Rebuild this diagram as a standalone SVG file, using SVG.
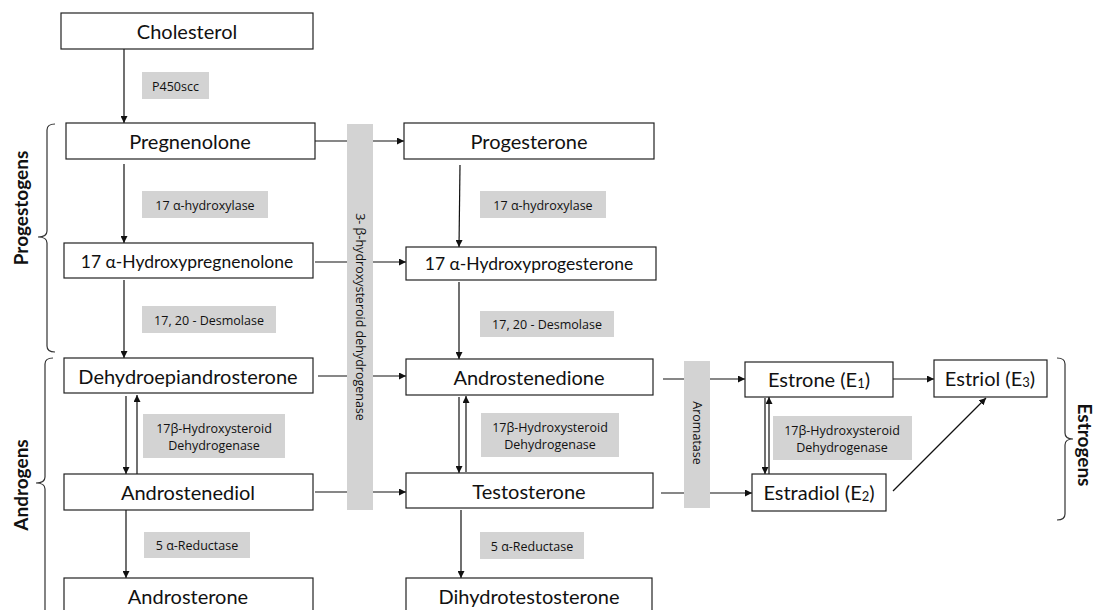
<svg xmlns="http://www.w3.org/2000/svg" width="1095" height="610" viewBox="0 0 1095 610">
<defs>
<marker id="ah" viewBox="0 0 10 10" refX="10" refY="5" markerWidth="7" markerHeight="7" markerUnits="userSpaceOnUse" orient="auto"><path d="M0,0 L10,5 L0,10 z" fill="#111"/></marker>
<style>
.box{fill:#fff;stroke:#222;stroke-width:1.2}
.bt{font-family:Lato,"Open Sans",sans-serif;font-size:20px;fill:#111;text-anchor:middle;dominant-baseline:central}
.bt.sm{font-size:17.5px}
.lb{fill:#d3d3d3}
.lt{font-family:"Open Sans","Noto Sans",sans-serif;font-size:12.5px;fill:#111;text-anchor:middle;dominant-baseline:central}
.cn{stroke:#111;stroke-width:1.2;fill:none}
.ar{marker-end:url(#ah)}
.br{stroke:#333;stroke-width:1.2;fill:none}
.gt{font-family:Lato,"Open Sans",sans-serif;font-size:19px;font-weight:bold;fill:#111;text-anchor:middle;dominant-baseline:central}
.sub{font-size:13px}
</style>
</defs>
<rect width="1095" height="610" fill="#fff"/>

<g id="connectors">
<line class="cn ar" x1="124" y1="49" x2="124" y2="123"/>
<line class="cn ar" x1="124" y1="164" x2="124" y2="243"/>
<line class="cn ar" x1="124" y1="280" x2="124" y2="358"/>
<line class="cn ar" x1="126" y1="396" x2="126" y2="474"/>
<line class="cn ar" x1="137" y1="474" x2="137" y2="395"/>
<line class="cn ar" x1="126" y1="510" x2="126" y2="578"/>
<line class="cn ar" x1="315" y1="141" x2="404" y2="141"/>
<line class="cn ar" x1="315" y1="262" x2="406" y2="262"/>
<line class="cn ar" x1="318" y1="376" x2="406" y2="376"/>
<line class="cn ar" x1="315" y1="492" x2="406" y2="492"/>
<line class="cn ar" x1="460" y1="165" x2="459" y2="247"/>
<line class="cn ar" x1="459" y1="282" x2="459" y2="359"/>
<line class="cn ar" x1="459" y1="397" x2="459" y2="473"/>
<line class="cn ar" x1="466" y1="472" x2="466" y2="396"/>
<line class="cn ar" x1="461" y1="510" x2="461" y2="578"/>
<line class="cn ar" x1="663" y1="379" x2="745" y2="379"/>
<line class="cn ar" x1="661" y1="493" x2="752" y2="493"/>
<line class="cn ar" x1="765" y1="398" x2="765" y2="474"/>
<line class="cn ar" x1="769" y1="474" x2="769" y2="397"/>
<line class="cn ar" x1="893" y1="379" x2="934" y2="379"/>
<line class="cn ar" x1="893" y1="491" x2="986" y2="398"/>
</g>

<g id="bar-3bhsd"><rect class="lb" x="347" y="124" width="26" height="386"/><text class="lt" transform="translate(360,317) rotate(90)">3- β-hydroxysteroid dehydrogenase</text></g>
<g id="bar-aromatase"><rect class="lb" x="684" y="361" width="26" height="147"/><text class="lt" transform="translate(697,433) rotate(90)">Aromatase</text></g>

<g id="n-cholesterol"><rect class="box" x="61" y="13" width="252" height="36"/><text class="bt" x="187" y="31">Cholesterol</text></g>
<g id="n-pregnenolone"><rect class="box" x="66" y="123" width="249" height="36"/><text class="bt" x="190" y="141">Pregnenolone</text></g>
<g id="n-17ohpreg"><rect class="box" x="64" y="243" width="249" height="35"/><text class="bt sm" x="187" y="261">17 α-Hydroxypregnenolone</text></g>
<g id="n-dhea"><rect class="box" x="64" y="358" width="249" height="35"/><text class="bt" x="188" y="376">Dehydroepiandrosterone</text></g>
<g id="n-androstenediol"><rect class="box" x="64" y="474" width="249" height="36"/><text class="bt" x="188" y="492">Androstenediol</text></g>
<g id="n-androsterone"><rect class="box" x="64" y="578" width="249" height="40"/><text class="bt" x="188" y="596">Androsterone</text></g>

<g id="n-progesterone"><rect class="box" x="404" y="123" width="250" height="36"/><text class="bt" x="529" y="141">Progesterone</text></g>
<g id="n-17ohprog"><rect class="box" x="406" y="247" width="250" height="33"/><text class="bt sm" x="529" y="263">17 α-Hydroxyprogesterone</text></g>
<g id="n-androstenedione"><rect class="box" x="406" y="359" width="247" height="36"/><text class="bt" x="529" y="377">Androstenedione</text></g>
<g id="n-testosterone"><rect class="box" x="406" y="473" width="247" height="35"/><text class="bt" x="529" y="491">Testosterone</text></g>
<g id="n-dht"><rect class="box" x="406" y="578" width="246" height="40"/><text class="bt" x="529" y="596">Dihydrotestosterone</text></g>

<g id="n-estrone"><rect class="box" x="745" y="362" width="148" height="35"/><text class="bt" x="819" y="379">Estrone (E<tspan class="sub" dy="4">1</tspan><tspan dy="-4">)</tspan></text></g>
<g id="n-estradiol"><rect class="box" x="752" y="474" width="134" height="37"/><text class="bt" x="819" y="492">Estradiol (E<tspan class="sub" dy="4">2</tspan><tspan dy="-4">)</tspan></text></g>
<g id="n-estriol"><rect class="box" x="934" y="360" width="113" height="37"/><text class="bt" x="990" y="378">Estriol (E<tspan class="sub" dy="4">3</tspan><tspan dy="-4">)</tspan></text></g>

<g id="labels">
<rect class="lb" x="142" y="72" width="67" height="27"/><text class="lt" x="175.5" y="86">P450scc</text>
<rect class="lb" x="142" y="191" width="126" height="27"/><text class="lt" x="205" y="205">17 α-hydroxylase</text>
<rect class="lb" x="142" y="306" width="134" height="27"/><text class="lt" x="209" y="320">17, 20 - Desmolase</text>
<rect class="lb" x="143" y="414" width="142" height="44"/><text class="lt" x="214" y="428">17β-Hydroxysteroid</text><text class="lt" x="214" y="445">Dehydrogenase</text>
<rect class="lb" x="144" y="532" width="106" height="26"/><text class="lt" x="197" y="545">5 α-Reductase</text>
<rect class="lb" x="480" y="191" width="126" height="27"/><text class="lt" x="543" y="205">17 α-hydroxylase</text>
<rect class="lb" x="480" y="311" width="134" height="26"/><text class="lt" x="547" y="324">17, 20 - Desmolase</text>
<rect class="lb" x="481" y="413" width="138" height="44"/><text class="lt" x="550" y="427">17β-Hydroxysteroid</text><text class="lt" x="550" y="444">Dehydrogenase</text>
<rect class="lb" x="480" y="532" width="104" height="27"/><text class="lt" x="532" y="546">5 α-Reductase</text>
<rect class="lb" x="773" y="416" width="139" height="44"/><text class="lt" x="842" y="430">17β-Hydroxysteroid</text><text class="lt" x="842" y="447">Dehydrogenase</text>
</g>

<g id="group-progestogens">
<path class="br" d="M55,124 Q47,124 47,130 L47,231 Q47,237 38,237 Q47,237 47,243 L47,346 Q47,352 55,352"/>
<text class="gt" transform="translate(20,208) rotate(-90)">Progestogens</text>
</g>
<g id="group-androgens">
<path class="br" d="M53,358 Q45,358 45,364 L45,477 Q45,483 36,483 Q45,483 45,489 L45,612"/>
<text class="gt" transform="translate(20,485) rotate(-90)">Androgens</text>
</g>
<g id="group-estrogens">
<path class="br" d="M1057,358 Q1065,358 1065,364 L1065,433 Q1065,439 1073,439 Q1065,439 1065,445 L1065,514 Q1065,520 1057,520"/>
<text class="gt" transform="translate(1085,445) rotate(90)">Estrogens</text>
</g>
</svg>
